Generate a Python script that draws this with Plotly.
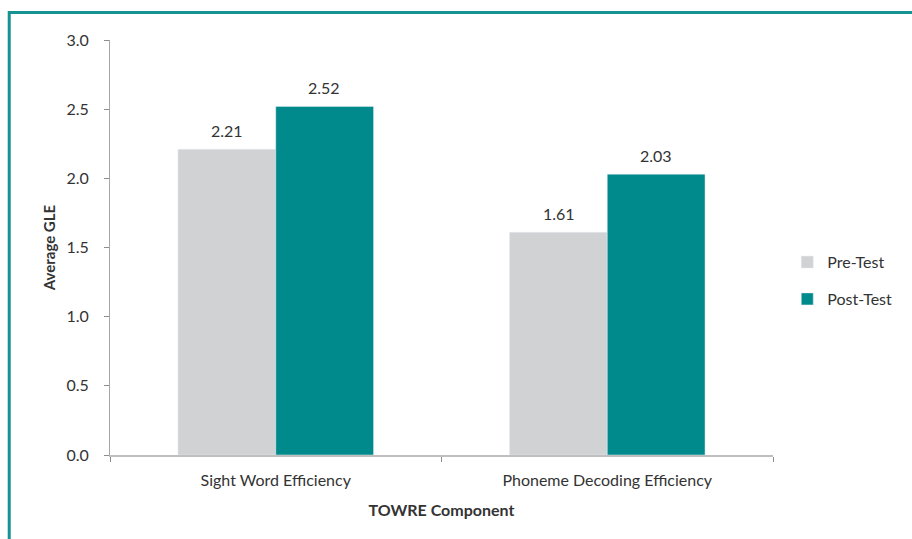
import plotly.graph_objects as go

categories = ["Sight Word Efficiency", "Phoneme Decoding Efficiency"]
pre_test = [2.21, 1.61]
post_test = [2.52, 2.03]
series_names = ["Pre-Test", "Post-Test"]
y_ticks = [0.0, 0.5, 1.0, 1.5, 2.0, 2.5, 3.0]

FONT = "Lato, Open Sans, sans-serif"
TEAL = "#008A8C"
GRAY = "#D1D2D4"
BAR_HALF_PX = 48.5  # half of one bar's pixel width, for label placement

fig = go.Figure()
fig.add_trace(go.Bar(x=categories, y=pre_test, name=series_names[0], marker_color=GRAY,
                     legendgroup="a", hoverinfo="skip"))
fig.add_trace(go.Bar(x=categories, y=post_test, name=series_names[1], marker_color=TEAL,
                     legendgroup="b", hoverinfo="skip"))

annotations = []
for series, shift in ((pre_test, -BAR_HALF_PX), (post_test, BAR_HALF_PX)):
    for cat, val in zip(categories, series):
        annotations.append(dict(x=cat, y=val, xref="x", yref="y", text=f"{val:.2f}",
                                showarrow=False, xshift=shift, yshift=19,
                                font=dict(size=16, color="#333333")))

fig.update_layout(
    width=912, height=539,
    margin=dict(l=110, r=139, t=40, b=84),
    paper_bgcolor="white", plot_bgcolor="white",
    font=dict(family=FONT, size=14, color="#333333"),
    barmode="group", bargap=0.41, bargroupgap=0,
    showlegend=True,
    legend=dict(x=1.0215, y=0.42, yanchor="middle", xanchor="left",
                font=dict(size=16, color="#333333"), tracegroupgap=13,
                itemwidth=30),
    xaxis=dict(title=dict(text="<b>TOWRE Component</b>", font=dict(size=16), standoff=17),
               automargin=False,
               showline=True, linecolor="#BFBFBF", linewidth=1.5,
               ticks="outside", tickson="boundaries", ticklen=5, tickcolor="#8C8C8C",
               tickfont=dict(size=16), showgrid=False, ticklabelstandoff=10),
    yaxis=dict(title=dict(text="<b>Average GLE</b>", font=dict(size=15), standoff=7),
               automargin=False,
               range=[0, 3.0], tickvals=y_ticks, tickformat=".1f",
               showline=True, linecolor="#A6A6A6", linewidth=1,
               ticks="outside", ticklen=5, tickcolor="#8C8C8C",
               tickfont=dict(size=16), showgrid=False, zeroline=False,
               ticklabelstandoff=12),
    annotations=annotations,
    shapes=[dict(type="rect", xref="paper", yref="paper",
                 x0=-0.152, x1=1.3, y0=-0.3, y1=1.066,
                 line=dict(color="#159393", width=3), layer="below")],
)

fig.write_html("out.html", config={"displayModeBar": False},
               post_script="document.body.style.margin='0';")
